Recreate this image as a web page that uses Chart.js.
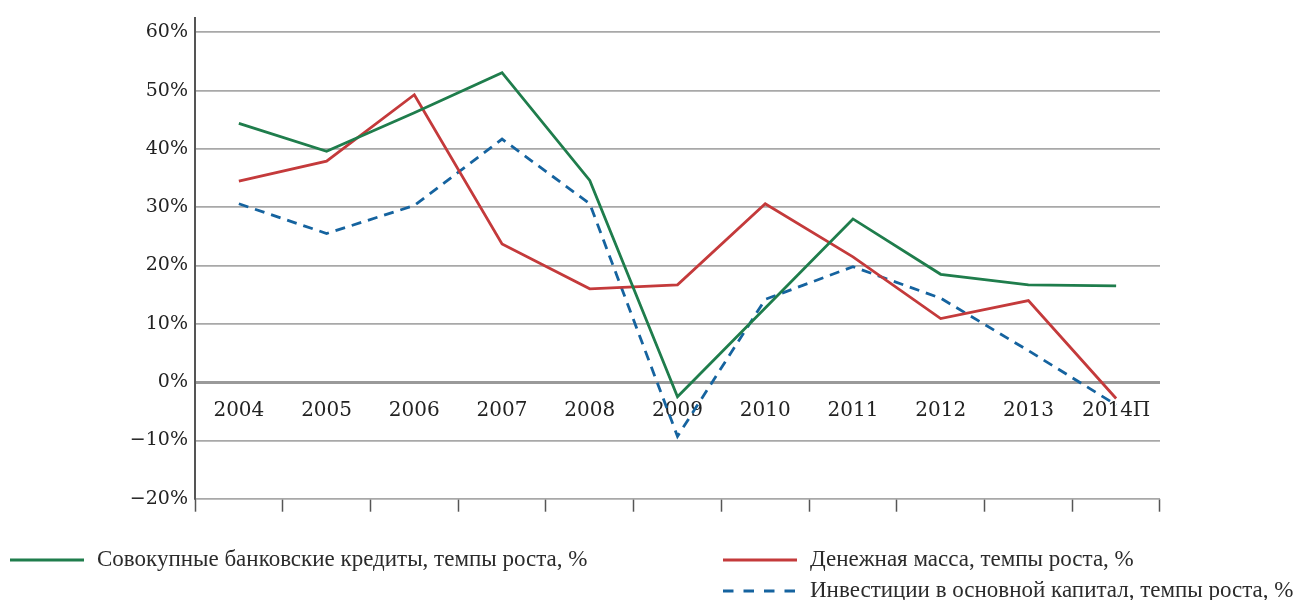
<!DOCTYPE html>
<html>
<head>
<meta charset="utf-8">
<script src="https://cdn.jsdelivr.net/npm/chart.js@4/dist/chart.umd.min.js"></script>
<style>
	html, body { margin: 0; padding: 0; background: #fff; }
	#wrap { width: 1302px; height: 600px; position: relative; }
</style>
</head>
<body>
<div id="wrap"><canvas id="myChart" width="1302" height="600"></canvas></div>
<script>
	const years = ['2004', '2005', '2006', '2007', '2008', '2009', '2010', '2011', '2012', '2013', '2014П'];
	const credits = [44.4, 39.6, 46.2, 53.1, 34.6, -2.5, 12.7, 28.0, 18.5, 16.7, 16.5];
	const money = [34.5, 37.9, 49.3, 23.7, 16.0, 16.7, 30.6, 21.5, 10.9, 14.0, -2.8];
	const invest = [30.6, 25.5, 30.3, 41.7, 30.6, -9.3, 14.2, 19.8, 14.4, 5.4, -3.9];
	const yTicks = [-20, -10, 0, 10, 20, 30, 40, 50, 60];

	const labelCredits = 'Совокупные банковские кредиты, темпы роста, %';
	const labelMoney = 'Денежная масса, темпы роста, %';
	const labelInvest = 'Инвестиции в основной капитал, темпы роста, %';

	const serif = '"DejaVu Serif", "Liberation Serif", serif';
	const legendFont = '23px "Liberation Serif", serif';

	// legend drawn by hand: one item on the left, two stacked on the right
	const legendPlugin = {
		id: 'sideLegend',
		afterDraw(chart) {
			const ctx = chart.ctx;
			const items = [
				{ ds: 0, x: 10, y: 560 },
				{ ds: 1, x: 723, y: 560 },
				{ ds: 2, x: 723, y: 591 }
			];
			ctx.save();
			items.forEach(it => {
				const ds = chart.data.datasets[it.ds];
				ctx.beginPath();
				ctx.strokeStyle = ds.borderColor;
				ctx.lineWidth = 3;
				ctx.setLineDash(ds.borderDash ? [10.5, 10] : []);
				ctx.moveTo(it.x, it.y);
				ctx.lineTo(it.x + 74, it.y);
				ctx.stroke();
				ctx.setLineDash([]);
				ctx.fillStyle = '#2b2b2b';
				ctx.font = legendFont;
				ctx.textBaseline = 'middle';
				ctx.fillText(ds.label, it.x + 87, it.y);
			});
			ctx.restore();
		}
	};

	const ctx = document.getElementById('myChart');
	const myChart = new Chart(ctx, {
		type: 'line',
		data: {
			labels: years,
			datasets: [
				{
					label: labelCredits,
					data: credits,
					borderColor: '#1f7d4c',
					borderWidth: 2.8,
					pointRadius: 0,
					tension: 0
				},
				{
					label: labelMoney,
					data: money,
					borderColor: '#c43a3b',
					borderWidth: 2.8,
					pointRadius: 0,
					tension: 0
				},
				{
					label: labelInvest,
					data: invest,
					borderColor: '#15639f',
					borderWidth: 2.8,
					borderDash: [10, 7],
					pointRadius: 0,
					tension: 0
				}
			]
		},
		options: {
			responsive: false,
			animation: false,
			layout: { padding: { top: 15, right: 142, left: 0, bottom: 0 } },
			plugins: {
				legend: { display: false },
				tooltip: { enabled: false }
			},
			scales: {
				x: {
					type: 'category',
					offset: true,
					grid: {
						display: true,
						offset: true,
						drawOnChartArea: false,
						drawTicks: true,
						tickLength: 13,
						tickColor: '#555',
						tickWidth: 1.5
					},
					border: { display: false },
					ticks: { display: false },
					afterFit(scale) { scale.height = 600 - 498.7; }
				},
				x2: {
					type: 'category',
					position: { y: 0 },
					offset: true,
					grid: { display: false, drawTicks: false },
					border: { display: false },
					ticks: {
						color: '#222',
						padding: 17,
						maxRotation: 0,
						autoSkip: false,
						font: { family: serif, size: 20 }
					}
				},
				y: {
					min: -20,
					max: 62.4,
					afterBuildTicks(scale) {
						scale.ticks = yTicks.map(v => ({ value: v }));
					},
					grid: {
						drawTicks: false,
						color: ctx2 => ctx2.tick && ctx2.tick.value === 0 ? '#9a9a9a' : '#a8a8a8',
						lineWidth: ctx2 => ctx2.tick && ctx2.tick.value === 0 ? 3 : 1.8
					},
					border: { display: true, color: '#555', width: 2 },
					ticks: {
						color: '#222',
						padding: 7,
						font: { family: serif, size: 19 },
						callback: v => (v < 0 ? '\u2212' + Math.abs(v) : v) + '%'
					},
					afterFit(scale) { scale.width = 195; }
				}
			}
		},
		plugins: [legendPlugin]
	});
</script>
</body>
</html>
